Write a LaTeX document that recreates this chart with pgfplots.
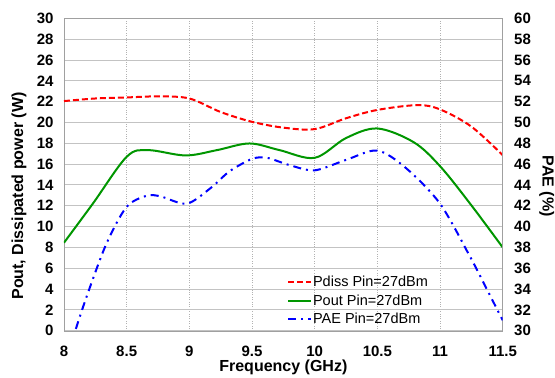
\documentclass[border=0pt]{standalone}
\usepackage{fontspec}
\setmainfont{Liberation Sans}
\usepackage{pgfplots}
\pgfplotsset{compat=1.18}
\definecolor{pgreen}{RGB}{0,150,0}
\definecolor{gridgray}{RGB}{195,195,195}
\definecolor{axgray}{RGB}{160,160,160}
\begin{document}
\begin{tikzpicture}
\path[use as bounding box] (-64pt,-47.3pt) rectangle (491pt,312.4pt+18.3pt);
\pgfplotsset{
  common/.style={
    at={(0,0)}, anchor=south west,
    scale only axis, width=438.7pt, height=312.4pt,
    xmin=8, xmax=11.5,
    xtick={8,8.5,...,11.5},
    xticklabels={8,8.5,9,9.5,10,10.5,11,11.5},
    /pgf/number format/assume math mode=true,
    tick label style={font=\fontsize{15}{17}\selectfont\bfseries},
    axis line style={axgray},
    major tick length=0pt,
    tick style={draw=none},
  }
}
\begin{axis}[common,
  ymin=0, ymax=30, ytick={0,2,...,30},
  ymajorgrids, xmajorgrids,
  y grid style={gridgray, line width=0.9pt},
  x grid style={gray!60, dotted, line width=0.7pt},
  yticklabel style={xshift=-7pt},
  xticklabel style={yshift=-12pt},
]
\addplot[red, line width=2pt, dash pattern=on 6pt off 3pt, smooth, tension=0.55] coordinates {
(8,22.05) (8.25,22.3) (8.5,22.4) (8.75,22.5) (9,22.3) (9.25,21.0) (9.5,20.06) (9.75,19.5) (10,19.36) (10.25,20.4) (10.5,21.2) (10.82,21.66) (11,21.25) (11.25,19.6) (11.5,16.86)};
\addplot[pgreen, line width=2pt, smooth, tension=0.55] coordinates {
(8,8.45) (8.23,12.2) (8.5,16.7) (8.67,17.34) (8.97,16.83) (9.22,17.34) (9.48,17.98) (9.72,17.34) (10,16.6) (10.25,18.5) (10.5,19.42) (10.79,18.1) (11,15.8) (11.24,12.2) (11.5,8.0)};
\end{axis}
\begin{axis}[common,
  axis y line*=right, axis x line=none,
  ymin=30, ymax=60, ytick={30,32,...,60},
  yticklabel style={xshift=8pt},
  legend style={at={(0.508,0.178)}, anchor=north west, draw=none, fill=none,
    font=\fontsize{14.5}{16}\selectfont, row sep=4.4pt,
    inner sep=0pt, nodes={inner sep=1pt}},
  legend cell align=left,
  legend image code/.code={\draw[#1] (0pt,0pt) -- (23pt,0pt);},
  clip=true,
]
\addlegendimage{red, line width=2pt, dash pattern=on 6pt off 3pt}
\addlegendentry{Pdiss Pin=27dBm}
\addlegendimage{pgreen, line width=2pt}
\addlegendentry{Pout Pin=27dBm}
\addplot[blue, line width=2pt, dash pattern=on 8pt off 5pt on 2pt off 5pt, smooth, tension=0.5] coordinates {
(8.0,26.5) (8.09,30) (8.19,33.6) (8.34,38.4) (8.5,41.9) (8.66,42.96) (8.77,42.9) (8.98,42.2) (9.17,43.7) (9.32,45.3) (9.5,46.5) (9.62,46.6) (9.8,45.9) (10,45.4) (10.25,46.4) (10.5,47.3) (10.73,45.6) (11,42.2) (11.24,37.1) (11.37,34.06) (11.5,31.0)};
\addlegendentry{PAE Pin=27dBm}
\end{axis}
\node[font=\fontsize{16}{18}\selectfont\bfseries, anchor=base] at (219.35pt,-40.3pt) {Frequency (GHz)};
\node[font=\fontsize{16}{18}\selectfont\bfseries, rotate=90] at (-45pt,134.6pt) {Pout, Dissipated power (W)};
\node[font=\fontsize{16}{18}\selectfont\bfseries, rotate=-90] at (482.7pt,144.6pt) {PAE (\%)};
\end{tikzpicture}
\end{document}
